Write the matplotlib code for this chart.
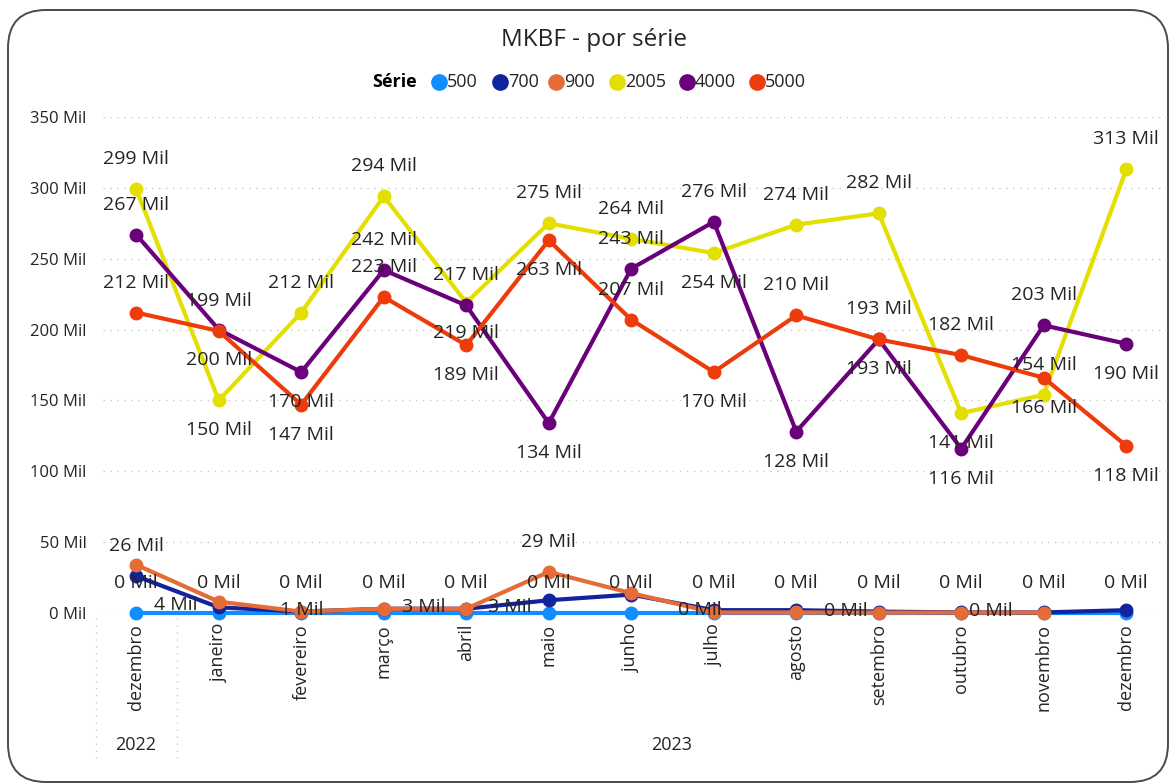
import numpy as np
import matplotlib.pyplot as plt
from matplotlib.patches import FancyBboxPatch

plt.rcParams['font.family'] = ['Open Sans', 'DejaVu Sans']

meses = ['dezembro', 'janeiro', 'fevereiro', 'março', 'abril', 'maio', 'junho',
         'julho', 'agosto', 'setembro', 'outubro', 'novembro', 'dezembro']
anos = ['2022', '2023']

# MKBF por série, em milhares
s500 = [0.2, 0.2, 0.2, 0.2, 0.2, 0.2, 0.2, 0.2, 0.2, 0.2, 0.2, 0.2, 0.2]
s700 = [26, 4, 1, 3, 3, 9, 13, 2, 2, 1, 0.4, 0.4, 2]
s900 = [34, 8, 1, 3, 3, 29, 14, 0.4, 0.4, 0.3, 0.3, 0.3, np.nan]
s2005 = [299, 150, 212, 294, 219, 275, 264, 254, 274, 282, 141, 154, 313]
s4000 = [267, 200, 170, 242, 217, 134, 243, 276, 128, 193, 116, 203, 190]
s5000 = [212, 199, 147, 223, 189, 263, 207, 170, 210, 193, 182, 166, 118]

series = [
    ('500', s500, '#118DFF'),
    ('700', s700, '#12239E'),
    ('900', s900, '#E66C37'),
    ('2005', s2005, '#E3DF00'),
    ('4000', s4000, '#6B007B'),
    ('5000', s5000, '#EE3B0B'),
]

# posição dos rótulos: a=acima, b=abaixo, c=sobre a linha, n=nenhum
pos = {
    '500': list('aaaaaaaaaaaaa'),
    '700': list('accncnnnnnnnn'),
    '900': list('nnncnancncncn'),
    '2005': list('abaabaabaabaa'),
    '4000': list('abbaabaabbbab'),
    '5000': list('aababbabaaabb'),
}
# deslocamento horizontal extra (pixels) dos rótulos pequenos
dx = {
    '700': {1: -43, 4: 44},
    '900': {3: 40, 7: -14, 9: -33, 11: -53},
}

W, H = 1169, 783
fig = plt.figure(figsize=(W / 100, H / 100), dpi=100)

# camada de fundo em pixels: moldura, título, legenda, anos
bg = fig.add_axes([0, 0, 1, 1])
bg.set_xlim(0, W)
bg.set_ylim(H, 0)
bg.axis('off')
bg.add_patch(FancyBboxPatch((8, 10), 1160, 772,
                            boxstyle='round,pad=0,rounding_size=38',
                            fill=False, edgecolor='#4a4a4a', linewidth=1.4))

bg.text(594, 40, 'MKBF - por série', ha='center', va='center',
        fontsize=17.5, color='#252423')

bg.text(372, 82, 'Série', ha='left', va='center', fontsize=13,
        fontweight='bold', color='#000000')
leg_x = [439, 500, 556, 617, 687, 757]
for lx, (nome, _, cor) in zip(leg_x, series):
    bg.plot(lx, 82, 'o', ms=11, color=cor)
    bg.text(lx + 8, 82, nome, ha='left', va='center', fontsize=13,
            color='#252423')

bg.text(136, 745, anos[0], ha='center', va='center', fontsize=13,
        color='#252423')
bg.text(672, 745, anos[1], ha='center', va='center', fontsize=13,
        color='#252423')
for xs in (96, 177):
    bg.plot([xs, xs], [618, 762], color='#c8c8c8', lw=1, ls=(0, (1, 4)))

ax = fig.add_axes([95 / W, 1 - 613 / H, 1072.5 / W, 496 / H])
ax.patch.set_alpha(0)
x = np.arange(len(meses))
for nome, vals, cor in series:
    ax.plot(x, vals, color=cor, lw=3, marker='o', ms=9, clip_on=False,
            solid_capstyle='round', zorder=3)

for nome, vals, cor in series:
    for i, v in enumerate(vals):
        p = pos[nome][i]
        if p == 'n' or np.isnan(v):
            continue
        ox = dx.get(nome, {}).get(i, 0)
        oy = {'a': 30, 'b': -30, 'c': 2}[p]
        ax.annotate(f'{v:.0f} Mil', (i, v), xytext=(ox, oy),
                    textcoords='offset pixels', ha='center', va='center',
                    fontsize=14, color='#252423', zorder=5,
                    annotation_clip=False)

ax.set_xlim(-0.5, 12.5)
ax.set_ylim(0, 350)
yt = np.arange(0, 351, 50)
ax.set_yticks(yt)
ax.set_yticklabels([f'{v} Mil' for v in yt])
ax.set_xticks(x)
ax.set_xticklabels(meses, rotation=90, va='top', ha='center')
ax.tick_params(axis='x', length=0, pad=8, labelsize=13, labelcolor='#252423')
ax.tick_params(axis='y', length=0, pad=6, labelsize=12, labelcolor='#252423')
for y in yt:
    ax.axhline(y, xmin=8 / 1072.5, color='#c8c8c8', lw=1, ls=(0, (1, 4)), zorder=1)
for s in ax.spines.values():
    s.set_visible(False)

fig.savefig('out.png', dpi=100)
